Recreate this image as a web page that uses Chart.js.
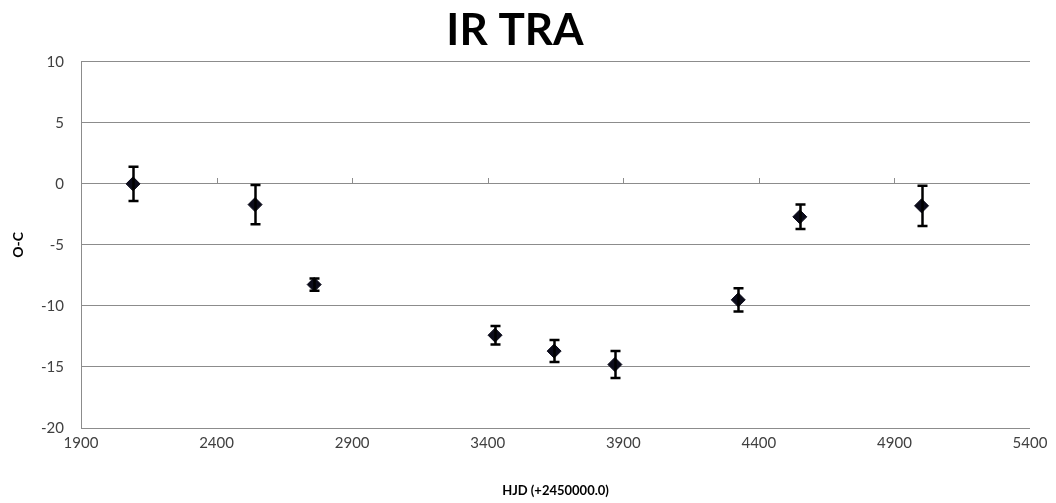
<!DOCTYPE html>
<html>
<head>
<meta charset="utf-8">
<script src="https://cdn.jsdelivr.net/npm/chart.js@4.4.0/dist/chart.umd.min.js"></script>
<style>
html,body{margin:0;padding:0;background:#fff;}
#wrap{width:1056px;height:503px;}
</style>
</head>
<body>
<div id="wrap"><canvas id="c" width="1056" height="503"></canvas></div>
<script>
const hjd = [2092, 2542, 2760, 3427, 3645, 3869, 4324, 4551, 5000];
const oc = [0.0, -1.7, -8.25, -12.4, -13.7, -14.8, -9.5, -2.7, -1.8];
const ocErr = [1.4, 1.6, 0.5, 0.75, 0.9, 1.1, 0.95, 1.0, 1.65];
const xTicks = [1900, 2400, 2900, 3400, 3900, 4400, 4900, 5400];
const yTicks = [-20, -15, -10, -5, 0, 5, 10];

const FONT = 'Lato, "Liberation Sans", sans-serif';
const pts = hjd.map((x, i) => ({x: x, y: oc[i]}));

const errorBars = {
  id: 'errorBars',
  afterDatasetsDraw(chart) {
    const ctx = chart.ctx, xs = chart.scales.x, ys = chart.scales.y;
    ctx.save();
    ctx.strokeStyle = '#000';
    hjd.forEach((x, i) => {
      const px = Math.round(xs.getPixelForValue(x)) + 0.5;
      const top = ys.getPixelForValue(oc[i] + ocErr[i]);
      const bot = ys.getPixelForValue(oc[i] - ocErr[i]);
      ctx.lineWidth = 2.5;
      ctx.beginPath(); ctx.moveTo(px, top); ctx.lineTo(px, bot); ctx.stroke();
      ctx.beginPath();
      ctx.moveTo(px - 5, top); ctx.lineTo(px + 5, top);
      ctx.moveTo(px - 5, bot); ctx.lineTo(px + 5, bot);
      ctx.stroke();
    });
    ctx.restore();
  }
};

const zeroAxisTicks = {
  id: 'zeroAxisTicks',
  beforeDatasetsDraw(chart) {
    const ctx = chart.ctx, xs = chart.scales.x, ys = chart.scales.y;
    const y0 = Math.round(ys.getPixelForValue(0));
    ctx.save();
    ctx.strokeStyle = '#8c8c8c';
    ctx.lineWidth = 1;
    xTicks.slice(1, -1).forEach(v => {
      const px = Math.round(xs.getPixelForValue(v)) + 0.5;
      ctx.beginPath(); ctx.moveTo(px, y0 - 6); ctx.lineTo(px, y0); ctx.stroke();
    });
    ctx.restore();
  }
};

new Chart(document.getElementById('c'), {
  type: 'scatter',
  data: {
    datasets: [{
      label: 'O-C',
      data: pts,
      pointStyle: 'rectRot',
      pointRadius: 7,
      pointHoverRadius: 7,
      backgroundColor: '#0b0b1a',
      borderColor: '#0b0b1a',
      borderWidth: 1
    }]
  },
  options: {
    responsive: false,
    animation: false,
    devicePixelRatio: 1,
    layout: {padding: {left: 0, right: 26, top: 4, bottom: 0}},
    plugins: {
      legend: {display: false},
      tooltip: {enabled: false},
      title: {
        display: true,
        text: 'IR TRA',
        color: '#000',
        font: {family: FONT, size: 44, weight: 'bold', lineHeight: 1.2},
        padding: {top: 0, bottom: 5}
      }
    },
    scales: {
      x: {
        type: 'linear',
        min: 1900, max: 5400,
        afterBuildTicks(scale) { scale.ticks = xTicks.map(v => ({value: v})); },
        afterFit(scale) { scale.height = 75; },
        grid: {display: false, drawTicks: false},
        border: {display: false},
        ticks: {color: '#404040', font: {family: FONT, size: 15}, padding: 6,
                callback: v => String(v)},
        title: {
          display: true, text: 'HJD (+2450000.0)', color: '#000',
          font: {family: FONT, size: 13, weight: 'bold', lineHeight: 1.2},
          padding: {top: 0, bottom: 4}
        }
      },
      y: {
        type: 'linear',
        min: -20, max: 10,
        afterBuildTicks(scale) { scale.ticks = yTicks.map(v => ({value: v})); },
        afterFit(scale) { scale.width = 81; },
        grid: {color: '#8c8c8c', lineWidth: 1, drawTicks: false},
        border: {display: true, color: '#8c8c8c', width: 1},
        ticks: {color: '#404040', font: {family: FONT, size: 15}, padding: 17,
                callback: v => String(v)},
        title: {
          display: true, text: 'O-C', color: '#000',
          font: {family: FONT, size: 14, weight: 'bold', lineHeight: 1.2},
          padding: {top: 10, bottom: 0}
        }
      }
    }
  },
  plugins: [zeroAxisTicks, errorBars]
});
</script>
</body>
</html>
